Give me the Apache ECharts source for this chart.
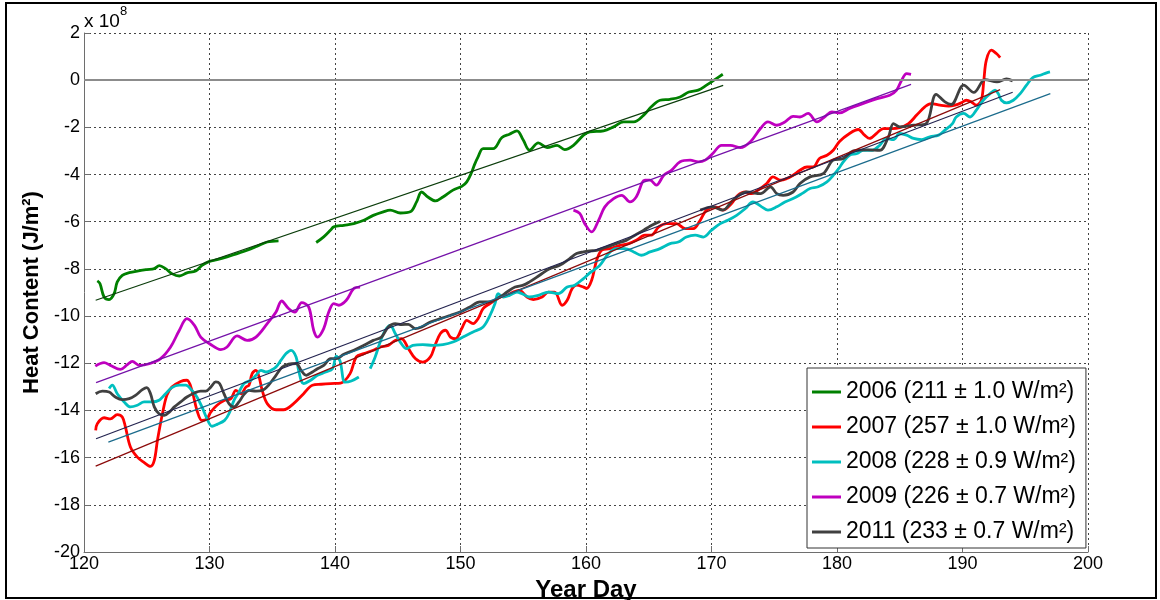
<!DOCTYPE html>
<html>
<head>
<meta charset="utf-8">
<script src="https://cdn.jsdelivr.net/npm/echarts@6/dist/echarts.min.js"></script>
<style>
html,body{margin:0;padding:0;background:#fff;}
#chart{width:1160px;height:600px;}
</style>
</head>
<body>
<div id="chart"></div>
<script>
// ---- Data (values in units of 1e8 J/m^2, x in year day) ----
const xTicks = [120, 130, 140, 150, 160, 170, 180, 190, 200];
const yTicks = [-20, -18, -16, -14, -12, -10, -8, -6, -4, -2, 0, 2];

const seriesNames = [
  '2006 (211 ± 1.0 W/m²)',
  '2007 (257 ± 1.0 W/m²)',
  '2008 (228 ± 0.9 W/m²)',
  '2009 (226 ± 0.7 W/m²)',
  '2011 (233 ± 0.7 W/m²)'
];

const days2006 = [121.06,121.27,121.6,122.0,122.4,122.65,123.05,123.6,124.25,125.0,125.6,126.0,126.5,127.0,127.6,128.2,128.9,129.4,130.0,130.6,131.4,132.2,133.0,133.8,134.6,135.5,137.0,138.5,139.1,139.65,139.9,140.7,141.5,142.3,143.05,143.85,144.4,145.2,146.0,146.5,146.9,147.4,148.0,148.6,149.4,150.1,150.5,150.9,151.1,151.4,151.8,152.6,153.3,153.9,154.5,155.0,155.5,156.2,156.9,157.7,158.3,159.0,159.8,160.3,161.4,162.2,163.0,163.8,164.6,165.2,165.9,166.7,167.5,168.2,168.95,169.6,170.2,170.9];
const heat2006 = [-8.51,-8.62,-9.19,-9.30,-9.05,-8.55,-8.27,-8.16,-8.09,-8.03,-7.99,-7.86,-7.99,-8.20,-8.30,-8.17,-8.09,-7.85,-7.68,-7.61,-7.49,-7.35,-7.21,-7.04,-6.86,-6.81,null,-6.88,-6.64,-6.35,-6.22,-6.15,-6.08,-5.94,-5.73,-5.58,-5.51,-5.63,-5.58,-5.16,-4.74,-4.95,-5.12,-4.95,-4.66,-4.50,-4.31,-3.89,-3.60,-3.25,-2.90,-2.90,-2.43,-2.29,-2.15,-2.54,-2.97,-2.66,-2.86,-2.76,-2.94,-2.76,-2.33,-2.19,-2.15,-1.98,-1.77,-1.77,-1.48,-1.13,-0.85,-0.81,-0.71,-0.50,-0.42,-0.21,0.00,0.25];

const days2007 = [120.93,121.06,121.6,122.1,122.65,123.05,123.3,123.7,124.25,124.8,125.3,125.6,125.85,126.25,126.6,127.0,127.7,128.2,128.6,129.0,129.4,129.8,130.1,130.6,131.2,131.7,132.1,132.5,132.9,133.15,133.4,133.7,133.95,134.2,134.6,135.3,135.9,136.7,137.5,138.2,138.9,139.65,140.45,141.2,141.7,142.3,143.05,143.6,144.25,144.8,145.3,145.85,146.4,147.0,147.6,147.97,148.4,148.8,149.2,149.6,150.1,150.5,151.0,151.4,151.8,152.35,152.75,153.15,153.7,154.2,154.7,155.3,155.8,156.5,157.0,157.5,158.1,158.5,158.9,159.25,159.8,160.05,160.45,160.85,161.25,161.9,162.7,163.4,164.0,164.7,165.2,165.8,166.4,167.2,167.9,168.55,169.1,169.6,170.3,170.9,171.6,172.1,172.7,173.2,173.7,174.4,174.9,175.5,176.0,176.5,177.05,177.6,178.1,178.6,179.2,179.7,180.2,181.0,181.7,182.2,182.6,183.2,183.7,184.4,185.0,185.7,186.35,187.0,187.5,188.2,188.9,189.4,189.9,190.3,190.7,191.1,191.5,191.7,191.9,192.3,192.7,193.0];
const heat2007 = [-14.84,-14.56,-14.31,-14.36,-14.18,-14.28,-14.70,-15.55,-15.98,-16.21,-16.37,-16.12,-15.27,-14.14,-13.36,-13.01,-12.77,-12.72,-13.15,-13.99,-14.42,-14.35,-14.07,-13.78,-13.57,-13.50,-13.15,-13.29,-13.01,-12.93,-12.44,-12.30,-12.58,-13.15,-13.71,-13.97,-13.97,-13.71,-13.29,-12.93,-12.89,-12.86,-12.84,-12.44,-11.73,-11.59,-11.45,-11.31,-11.24,-11.03,-10.96,-11.38,-11.80,-11.95,-11.73,-11.24,-10.74,-10.60,-10.89,-10.96,-10.53,-10.18,-10.32,-10.11,-9.68,-9.47,-9.33,-9.19,-9.12,-8.98,-8.91,-9.19,-9.30,-9.19,-8.98,-8.98,-9.54,-9.33,-8.83,-8.69,-8.77,-8.83,-8.48,-7.63,-7.21,-7.14,-7.00,-6.93,-6.79,-6.57,-6.57,-6.22,-6.08,-6.08,-6.29,-6.29,-5.94,-5.51,-5.37,-5.51,-5.23,-4.88,-4.74,-4.81,-4.66,-4.38,-4.10,-4.24,-4.17,-4.03,-3.82,-3.68,-3.68,-3.32,-3.18,-2.97,-2.60,-2.26,-2.09,-2.33,-2.47,-2.23,-2.05,-2.05,-2.01,-1.84,-1.48,-1.13,-0.99,-1.06,-1.10,-1.06,-0.96,-0.85,-0.92,-1.06,-0.85,0.00,0.85,1.27,1.13,0.96];

const days2008 = [122.0,122.25,122.65,123.2,123.7,124.25,124.8,125.4,125.98,126.5,127.0,127.6,128.1,128.6,129.0,129.4,129.8,130.2,130.6,131.2,131.55,131.95,132.35,132.75,133.3,133.7,134.1,134.5,134.9,135.3,135.7,136.1,136.5,136.9,137.1,137.5,138.06,138.6,139.26,139.8,140.1,140.4,140.8,141.3,141.9,142.4,142.8,143.2,143.6,144.0,144.4,144.8,145.2,145.7,146.2,147.0,147.8,148.6,149.4,150.2,151.0,151.8,152.35,152.75,153.0,153.4,153.9,154.5,154.9,155.5,156.2,157.0,157.8,158.5,159.1,159.8,160.3,160.6,161.1,161.8,162.4,163.1,163.8,164.4,165.1,165.9,166.7,167.35,168.0,168.7,169.35,170.0,170.7,171.3,172.0,172.7,173.3,174.0,174.5,175.2,175.85,176.5,177.2,177.85,178.5,179.2,179.7,180.2,180.5,181.0,181.6,182.1,182.8,183.4,183.95,184.5,185.0,185.55,186.1,186.75,187.4,188.1,188.6,189.2,189.5,190.1,190.6,191.1,191.65,192.2,192.6,192.85,193.1,193.5,194.05,194.6,195.1,195.6,196.2,196.7,196.97];
const heat2008 = [-13.07,-12.93,-13.29,-13.64,-13.85,-13.78,-13.64,-13.64,-13.57,-13.29,-13.03,-12.93,-12.93,-13.15,-13.43,-13.85,-14.35,-14.67,-14.59,-14.42,-14.14,-13.57,-13.22,-12.86,-12.72,-12.51,-12.30,-12.37,-12.30,-12.16,-11.87,-11.59,-11.45,-11.73,-12.30,-12.86,-12.72,-12.51,-12.37,-12.23,-11.70,-11.90,-12.80,-12.75,-12.58,null,-12.23,-11.73,-11.10,-10.60,-10.39,-10.74,-11.10,-11.38,-11.24,-11.21,-11.24,-11.21,-11.10,-10.89,-10.67,-10.46,-9.97,-9.47,-9.05,-9.19,-9.12,-8.98,-9.05,-9.19,-9.12,-8.98,-9.05,-8.77,-8.69,-8.41,-8.17,-8.06,-7.85,-7.35,-7.14,-7.14,-7.28,-7.42,-7.28,-7.14,-6.93,-6.86,-6.65,-6.57,-6.65,-6.36,-6.08,-5.94,-5.73,-5.44,-5.16,-5.37,-5.51,-5.37,-5.16,-5.02,-4.81,-4.59,-4.52,-4.31,-4.03,-3.70,-3.46,-3.18,-3.11,-2.97,-2.97,-2.76,-2.47,-2.52,-2.26,-2.33,-2.47,-2.52,-2.40,-2.33,-2.12,-1.84,-1.56,-1.41,-1.56,-1.27,-0.85,-0.57,-0.42,-0.57,-0.85,-0.96,-0.85,-0.57,-0.21,0.11,0.21,0.31,0.35];

const days2009 = [120.9,121.6,122.1,122.9,123.45,123.85,124.4,125.2,126.1,126.9,127.6,128.2,128.8,129.3,130.0,130.9,131.4,132.2,133.0,133.7,134.6,135.3,135.75,136.3,136.8,137.35,137.9,138.3,138.6,139.1,139.5,139.9,140.3,140.9,141.5,142.0,150.0,159.0,159.5,159.9,160.45,161.0,161.5,162.2,162.85,163.5,164.0,164.7,165.1,165.6,166.2,166.8,167.5,168.3,168.95,169.5,170.1,170.8,171.5,172.3,173.1,173.9,174.5,175.2,175.85,176.5,177.05,177.7,178.4,179.0,179.6,180.2,181.0,182.1,183.2,184.2,184.75,185.15,185.55,185.9];
const heat2009 = [-12.12,-11.97,-12.09,-12.26,-12.06,-11.92,-12.09,-12.02,-11.80,-11.31,-10.60,-10.11,-10.39,-10.89,-11.17,-11.42,-11.31,-10.84,-11.03,-10.89,-10.32,-9.83,-9.36,-9.68,-9.83,-9.43,-9.61,-10.60,-10.89,-10.53,-9.83,-9.47,-9.54,-9.33,-8.83,-8.77,null,-5.51,-5.65,-6.08,-6.43,-5.94,-5.37,-5.02,-4.88,-5.16,-4.95,-4.24,-4.24,-4.45,-4.03,-3.82,-3.46,-3.39,-3.46,-3.39,-3.11,-2.76,-2.76,-2.86,-2.61,-2.05,-1.77,-1.91,-1.77,-1.53,-1.56,-1.41,-1.77,-1.56,-1.34,-1.39,-1.20,-0.99,-0.78,-0.64,-0.42,0.00,0.28,0.25];

const days2011 = [120.93,121.46,122.0,122.5,123.05,123.6,124.1,124.65,125.0,125.3,125.6,125.98,126.4,126.8,127.2,127.7,128.2,128.8,129.3,129.7,130.1,130.5,130.8,131.15,131.55,131.95,132.35,132.75,133.15,133.7,134.2,134.7,135.3,135.8,136.3,136.9,137.3,137.7,138.2,138.6,139.1,139.65,140.1,140.7,141.5,142.3,143.05,143.7,144.25,144.8,145.3,145.85,146.4,146.9,147.6,148.4,149.2,149.96,150.75,151.55,152.35,153.15,153.7,154.35,155.0,155.5,156.3,157.1,157.9,158.7,159.25,159.8,160.3,160.85,161.65,162.4,163.2,163.9,164.6,165.1,165.5,165.9,167.5,169.1,170.1,170.9,171.7,172.8,173.9,174.7,175.2,175.7,176.5,177.05,177.85,178.9,179.7,180.5,181.3,182.4,183.4,184.1,184.5,185.0,186.1,187.1,187.9,188.6,189.1,190.1,190.9,191.8,192.75,193.5,194.0];
const heat2011 = [-13.29,-13.18,-13.22,-13.43,-13.54,-13.50,-13.36,-13.12,-13.03,-13.29,-13.85,-14.14,-14.21,-14.07,-13.85,-13.64,-13.43,-13.26,-13.18,-13.18,-13.01,-12.79,-12.86,-13.29,-13.71,-13.85,-13.64,-13.32,-13.15,-13.18,-13.15,-12.93,-12.51,-12.16,-12.04,-12.01,-12.30,-12.51,-12.37,-12.23,-12.09,-11.80,-11.80,-11.62,-11.45,-11.24,-11.03,-10.89,-10.46,-10.32,-10.36,-10.35,-10.53,-10.46,-10.25,-10.11,-9.97,-9.83,-9.61,-9.40,-9.40,-9.19,-8.98,-8.77,-8.69,-8.55,-8.27,-7.99,-7.85,-7.56,-7.35,-7.28,-7.24,-7.21,-7.07,-6.93,-6.79,-6.57,-6.36,-6.19,-6.08,-5.99,null,-5.51,-5.37,-5.51,-5.09,-4.74,-4.81,-4.52,-4.81,-4.88,-4.74,-4.38,-4.10,-3.96,-3.39,-3.32,-3.00,-2.95,-2.97,-2.40,-1.84,-1.98,-1.91,-1.84,-0.60,-0.92,-1.03,-0.21,-0.52,0.02,-0.07,0.05,-0.03];

// Linear fits: [startDay, endDay], [startValue, endValue]
const fitDays2006 = [120.93, 170.93]; const fitHeat2006 = [-9.33, -0.22];
const fitDays2007 = [120.93, 193.0];  const fitHeat2007 = [-16.36, -0.40];
const fitDays2008 = [121.94, 197.0];  const fitHeat2008 = [-15.34, -0.57];
const fitDays2009 = [120.96, 185.9];  const fitHeat2009 = [-12.82, -0.18];
const fitDays2011 = [120.96, 194.0];  const fitHeat2011 = [-15.2, -0.51];

// ---- helpers ----
function pairs(xs, ys) { return xs.map((x, i) => [x, ys[i]]); }

const font = "'Liberation Sans', Arial, Helvetica, sans-serif";
const dataColors = ['#008000', '#ff0000', '#00bfbf', '#bf00bf', '#404040'];
const fitColors = ['#0b3d0b', '#8b0a0a', '#1b6b8c', '#7412a8', '#23234f'];

const dataSets = [
  pairs(days2006, heat2006), pairs(days2007, heat2007), pairs(days2008, heat2008),
  pairs(days2009, heat2009), pairs(days2011, heat2011)
];
const fitSets = [
  pairs(fitDays2006, fitHeat2006), pairs(fitDays2007, fitHeat2007), pairs(fitDays2008, fitHeat2008),
  pairs(fitDays2009, fitHeat2009), pairs(fitDays2011, fitHeat2011)
];

const series = [];
dataSets.forEach((d, i) => {
  series.push({
    name: seriesNames[i], type: 'line', data: d, showSymbol: false, symbol: 'none',
    smooth: 0.35, connectNulls: false, animation: false, z: 3,
    lineStyle: { color: dataColors[i], width: 2.8 }, itemStyle: { color: dataColors[i] }
  });
});
fitSets.forEach((d, i) => {
  series.push({
    name: 'fit' + i, type: 'line', data: d, showSymbol: false, symbol: 'none',
    animation: false, z: 4, lineStyle: { color: fitColors[i], width: 1.2 }
  });
});
// zero reference line
series.push({
  name: 'zero', type: 'line', data: [], animation: false, z: 2,
  markLine: { silent: true, symbol: 'none', label: { show: false }, animation: false,
    lineStyle: { color: '#8c8c8c', width: 2, type: 'solid' }, data: [{ yAxis: 0 }] }
});

const chart = echarts.init(document.getElementById('chart'), null, { renderer: 'canvas' });
chart.setOption({
  animation: false,
  backgroundColor: '#ffffff',
  grid: { left: 84, right: 72, top: 33, bottom: 48, containLabel: false, outerBoundsMode: 'none' },
  xAxis: {
    type: 'value', min: xTicks[0], max: xTicks[xTicks.length - 1], interval: 10,
    name: 'Year Day', nameLocation: 'middle', nameGap: 22,
    nameTextStyle: { fontFamily: font, fontSize: 24, fontWeight: 'bold', color: '#000' },
    axisLine: { show: true, onZero: false, lineStyle: { color: '#6e6e6e', width: 1 } },
    axisTick: { show: true, inside: true, length: 6, lineStyle: { color: '#6e6e6e' } },
    axisLabel: { fontFamily: font, fontSize: 18, color: '#000', margin: 3,
      formatter: v => xTicks.includes(v) ? String(v) : '' },
    splitLine: { show: true, lineStyle: { color: '#444', width: 1, type: [2, 3] } }
  },
  yAxis: {
    type: 'value', min: yTicks[0], max: yTicks[yTicks.length - 1], interval: 2,
    name: 'Heat Content (J/m²)', nameLocation: 'middle', nameGap: 38, nameRotate: 90,
    nameTextStyle: { fontFamily: font, fontSize: 22, fontWeight: 'bold', color: '#000' },
    axisLine: { show: true, onZero: false, lineStyle: { color: '#6e6e6e', width: 1 } },
    axisTick: { show: true, inside: true, length: 6, lineStyle: { color: '#6e6e6e' } },
    axisLabel: { fontFamily: font, fontSize: 18, color: '#000', margin: 4,
      formatter: v => yTicks.includes(v) ? String(v) : '' },
    splitLine: { show: true, lineStyle: { color: '#444', width: 1, type: [2, 3] } }
  },
  legend: {
    data: seriesNames, orient: 'vertical', left: 807, top: 368,
    backgroundColor: '#ffffff', borderColor: '#333', borderWidth: 1,
    padding: [9, 10, 1, 5], itemGap: 5, itemWidth: 29, itemHeight: 3, icon: 'rect',
    textStyle: { fontFamily: font, fontSize: 23, color: '#000', lineHeight: 30 },
    selectedMode: false
  },
  graphic: [
    { type: 'rect', silent: true, z: 100, shape: { x: 6, y: 3, width: 1150, height: 595 },
      style: { fill: 'none', stroke: '#000', lineWidth: 2 } },
    { type: 'text', silent: true, left: 84, top: 12,
      style: { text: 'x 10', font: "19px 'Liberation Sans', Arial, sans-serif", fill: '#000' } },
    { type: 'text', silent: true, left: 120, top: 5,
      style: { text: '8', font: "13px 'Liberation Sans', Arial, sans-serif", fill: '#000' } }
  ],
  series: series
});
</script>
</body>
</html>
